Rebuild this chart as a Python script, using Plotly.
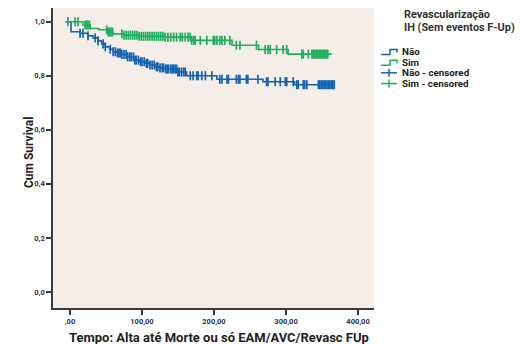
import plotly.graph_objects as go
import numpy as np

# ---- data ----
nao_times = [-6, 1.5, 14, 25, 32, 39, 44, 49, 55, 60, 66, 72, 80, 90, 97, 104, 111, 118, 125, 132, 150, 162, 204, 268, 312, 368]
nao_surv  = [1.0, 0.963, 0.957, 0.948, 0.94, 0.929, 0.918, 0.907, 0.898, 0.889, 0.884, 0.879, 0.87, 0.858, 0.852, 0.846, 0.84, 0.833, 0.829, 0.825, 0.814, 0.800, 0.787, 0.778, 0.767, 0.767]
sim_times = [-6, 18, 28, 40, 52, 60, 75, 95, 132, 169, 225, 262, 303, 363.5]
sim_surv  = [1.0, 0.988, 0.975, 0.970, 0.962, 0.955, 0.950, 0.946, 0.943, 0.931, 0.913, 0.897, 0.880, 0.880]

nao_cens = [14, 18, 25, 35, 39, 46, 49, 56, 60, 63, 66, 68, 70, 72, 75, 78, 80, 83, 85, 88, 90, 92, 95, 98,
            100, 103, 106, 108, 111, 114, 117, 120, 122, 125, 128, 130, 133, 135, 137, 140, 142, 144, 146,
            148, 150, 152, 155, 158, 160, 167, 171, 176, 178, 183, 188, 197, 208, 211, 218, 220, 231, 234,
            236, 245, 247, 261, 273, 275, 285, 292, 299, 301, 310, 315, 317, 324, 326, 329, 345, 347, 349,
            351, 353, 355, 357, 359, 361, 363, 365, 367]
sim_cens = [-3, 7, 11, 21, 23, 25, 27, 51, 53, 55, 57, 59, 72, 75, 78, 81, 84, 87, 90, 93, 96, 99, 102, 105,
            108, 111, 114, 117, 120, 123, 126, 129, 132, 136, 140, 144, 148, 153, 156, 160, 164, 167, 169,
            172, 174, 181, 190, 199, 201, 204, 208, 211, 215, 222, 231, 236, 259, 271, 275, 278, 287, 296,
            301, 322, 324, 331, 336, 338, 340, 342, 344, 346, 348, 350, 352, 354, 356, 358]

x_tickvals = [0, 100, 200, 300, 400]
x_ticktext = [",00", "100,00", "200,00", "300,00", "400,00"]
y_tickvals = [0, 0.2, 0.4, 0.6, 0.8, 1.0]
y_ticktext = ["0,0", "0,2", "0,4", "0,6", "0,8", "1,0"]

BLUE = "#1563b0"
GREEN = "#1fad5c"
FONT = "Roboto"


def step_value(times, surv, t):
    idx = np.searchsorted(np.array(times), t, side="right") - 1
    return surv[max(idx, 0)]


fig = go.Figure()
fig.add_trace(go.Scatter(x=nao_times, y=nao_surv, mode="lines", line=dict(color=BLUE, width=1.6, shape="hv"),
                         name="Não", showlegend=False))
fig.add_trace(go.Scatter(x=sim_times, y=sim_surv, mode="lines", line=dict(color=GREEN, width=1.6, shape="hv"),
                         name="Sim", showlegend=False))
fig.add_trace(go.Scatter(x=nao_cens, y=[step_value(nao_times, nao_surv, t) for t in nao_cens], mode="markers",
                         marker=dict(symbol="line-ns-open", size=6.5, color=BLUE, line=dict(color=BLUE, width=1.7)),
                         name="Não - censored", showlegend=False))
fig.add_trace(go.Scatter(x=sim_cens, y=[step_value(sim_times, sim_surv, t) for t in sim_cens], mode="markers",
                         marker=dict(symbol="line-ns-open", size=6.5, color=GREEN, line=dict(color=GREEN, width=1.7)),
                         name="Sim - censored", showlegend=False))

# Page has an 8px body margin: the figure is drawn at page (8, 8).
OFF = 8
W_, H_ = 523 - OFF, 344 - OFF
# plot-area geometry in page pixels
L, R, T, B = 53, 374, 8, 308


def px(xp):
    return (xp - L) / (R - L)


def py(yp):
    return (B - yp) / (B - T)


shapes = []
annotations = []
legend_items = [("Não", BLUE, "step"), ("Sim", GREEN, "step"),
                ("Não - censored", BLUE, "cross"), ("Sim - censored", GREEN, "cross")]
ys = [51.5, 62.2, 72.8, 83.5]
for (label, col, kind), yy in zip(legend_items, ys):
    if kind == "step":
        path = f"M {px(381)} {py(yy+3)} L {px(390)} {py(yy+3)} L {px(390)} {py(yy-2)} L {px(397)} {py(yy-2)} L {px(397)} {py(yy+1)}"
        shapes.append(dict(type="path", xref="paper", yref="paper", path=path, line=dict(color=col, width=1.5)))
    else:
        shapes.append(dict(type="line", xref="paper", yref="paper", x0=px(381), x1=px(397), y0=py(yy), y1=py(yy),
                           line=dict(color=col, width=1.5)))
        shapes.append(dict(type="line", xref="paper", yref="paper", x0=px(389), x1=px(389), y0=py(yy-4), y1=py(yy+4),
                           line=dict(color=col, width=1.5)))
    annotations.append(dict(x=px(400), y=py(yy), xref="paper", yref="paper", text=label, showarrow=False,
                            xanchor="left", yanchor="middle",
                            font=dict(family=FONT, size=9.8, color="#222", weight="bold")))

annotations.append(dict(x=px(402), y=py(14.5), xref="paper", yref="paper", text="Revascularização",
                        showarrow=False, xanchor="left", yanchor="middle",
                        font=dict(family=FONT, size=10.9, color="#333", weight="bold")))
annotations.append(dict(x=px(402), y=py(28), xref="paper", yref="paper", text="IH (Sem eventos F-Up)",
                        showarrow=False, xanchor="left", yanchor="middle",
                        font=dict(family=FONT, size=10.9, color="#333", weight="bold")))

# axis titles
annotations.append(dict(x=px(219), y=py(337), xref="paper", yref="paper",
                        text="Tempo: Alta até Morte ou só EAM/AVC/Revasc FUp", showarrow=False,
                        xanchor="center", yanchor="middle",
                        font=dict(family=FONT, size=13, color="#222", weight="bold")))
annotations.append(dict(x=px(29), y=py(153), xref="paper", yref="paper", text="Cum Survival", showarrow=False,
                        textangle=-90, xanchor="center", yanchor="middle",
                        font=dict(family=FONT, size=12, color="#222", weight="bold")))

fig.update_layout(
    width=W_, height=H_,
    margin=dict(l=L - OFF, r=523 - R, t=T - OFF, b=344 - B, pad=0),
    paper_bgcolor="white", plot_bgcolor="#f5eee8",
    showlegend=False,
    shapes=shapes, annotations=annotations,
    font=dict(family=FONT, color="#333"),
)
fig.update_xaxes(range=[-23.6, 422.2], tickvals=x_tickvals, ticktext=x_ticktext, showgrid=False, zeroline=False,
                 showline=True, linecolor="#3a3a3a", linewidth=1.6, ticks="outside", ticklen=5, tickwidth=1.5,
                 tickcolor="#3a3a3a", tickfont=dict(family=FONT, size=7.5, color="#333", weight="bold"),
                 automargin=False)
fig.update_yaxes(range=[-0.0593, 1.0507], tickvals=y_tickvals, ticktext=y_ticktext, showgrid=False, zeroline=False,
                 showline=True, linecolor="#3a3a3a", linewidth=1.6, ticks="outside", ticklen=5, tickwidth=1.5,
                 tickcolor="#3a3a3a", tickfont=dict(family=FONT, size=7.5, color="#333", weight="bold"),
                 automargin=False)

fig.write_html("out.html")
